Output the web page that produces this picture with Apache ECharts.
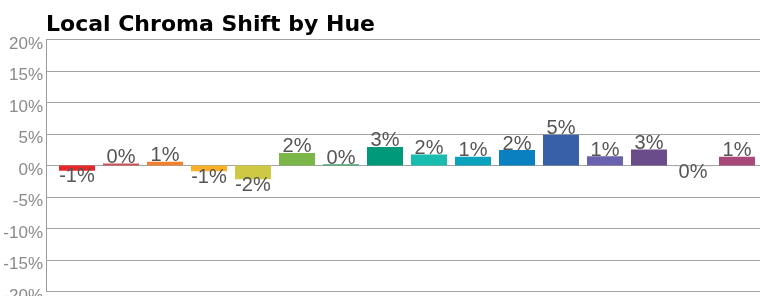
<!DOCTYPE html>
<html>
<head>
<meta charset="utf-8">
<script src="https://cdn.jsdelivr.net/npm/echarts@6/dist/echarts.min.js"></script>
<style>
html, body { margin: 0; padding: 0; background: #fff; }
#myChart { width: 760px; height: 296px; }
</style>
</head>
<body>
<div id="myChart"></div>
<script>
var myChart = echarts.init(document.getElementById('myChart'));

// hue buckets, left to right
var categories = ['Red', 'Rose', 'Orange', 'Amber', 'Yellow', 'Lime', 'Green', 'Teal',
    'Turquoise', 'Cyan', 'Azure', 'Blue', 'Violet', 'Purple', 'Magenta', 'Pink'];
// chroma shift in %
var values = [-0.84, 0.3, 0.6, -0.9, -2.2, 2.0, 0.2, 2.95, 1.75, 1.4, 2.45, 4.9, 1.45, 2.55, -0.1, 1.4];
var colors = ['#e8262a', '#c9555a', '#f2812f', '#fbb02a', '#cdc944', '#7ab648', '#3aa36b', '#00997a',
    '#19bdb0', '#0aa2bd', '#0a80c0', '#3860a8', '#6a62ae', '#6b4c8a', '#b0b0b0', '#a8497a'];
var yTicks = [-20, -15, -10, -5, 0, 5, 10, 15, 20];

var barData = [];
for (var i = 0; i < categories.length; i++) {
    barData.push({
        name: categories[i],
        value: [i, values[i]],
        itemStyle: {color: colors[i]},
        label: {position: values[i] < 0 ? 'bottom' : 'top'}
    });
}

myChart.setOption({
    animation: false,
    title: {
        text: 'Local Chroma Shift by Hue',
        left: 41, top: 9,
        textStyle: {fontFamily: 'DejaVu Sans', fontWeight: 'bold', fontSize: 22, color: '#000'}
    },
    grid: {left: 46, right: 0, top: 39.5, bottom: 4.5, containLabel: false, outerBoundsMode: 'none'},
    xAxis: {
        type: 'value', min: -0.7045, max: 15.523, show: false
    },
    yAxis: {
        type: 'value', min: yTicks[0], max: yTicks[yTicks.length - 1], interval: 5,
        axisLine: {show: true, onZero: false, lineStyle: {color: '#9a9a9a', width: 1}},
        axisTick: {show: false},
        splitLine: {show: true, lineStyle: {color: '#a3a3a3', width: 1}},
        axisLabel: {
            formatter: '{value}%', color: '#8a8a8a', fontFamily: 'Liberation Sans', fontSize: 17,
            margin: 3, verticalAlign: 'top', lineHeight: 9
        }
    },
    series: [{
        type: 'bar',
        barWidth: 36,
        data: barData,
        label: {
            show: true, distance: -4, color: '#555', fontFamily: 'Liberation Sans', fontSize: 20,
            formatter: function (p) { return Math.round(p.value[1]) + '%'; }
        }
    }]
});
</script>
</body>
</html>
